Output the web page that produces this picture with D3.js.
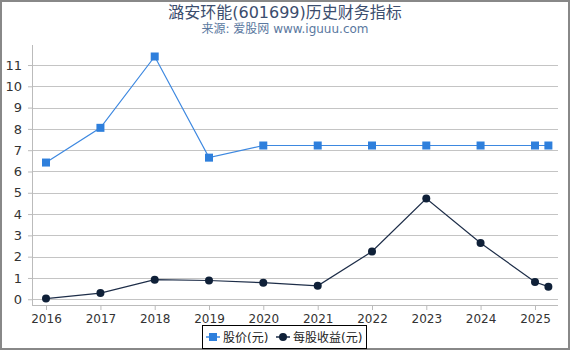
<!DOCTYPE html>
<html>
<head>
<meta charset="utf-8">
<script src="https://cdn.jsdelivr.net/npm/d3@7"></script>
<style>
body{margin:0;background:#fff;}
text{font-family:"DejaVu Sans","Noto Sans CJK SC",sans-serif;}
</style>
</head>
<body>
<div id="canvas"></div>
<script>
var w = 570;
var h = 350;

// data
var dates = ["2016-01-01","2017-01-01","2018-01-01","2019-01-01","2020-01-01","2021-01-01",
             "2022-01-01","2023-01-01","2024-01-01","2025-01-01","2025-04-01"];
var price = [6.42, 8.05, 11.4, 6.65, 7.22, 7.22, 7.22, 7.22, 7.22, 7.22, 7.22];
var eps = [0.03, 0.29, 0.92, 0.88, 0.78, 0.63, 2.24, 4.73, 2.64, 0.81, 0.59];
var yTicks = [0,1,2,3,4,5,6,7,8,9,10,11];
var xTickYears = [2016,2017,2018,2019,2020,2021,2022,2023,2024,2025];

var parse = d3.timeParse("%Y-%m-%d");
var priceData = dates.map(function(d,i){ return {date: parse(d), v: price[i]}; });
var epsData = dates.map(function(d,i){ return {date: parse(d), v: eps[i]}; });

var svg = d3.select("#canvas").append("svg")
	.attr("width", w)
	.attr("height", h);

// frame
svg.append("rect")
	.attr("x",1).attr("y",1)
	.attr("width",w-2).attr("height",h-2)
	.attr("fill","#fff")
	.attr("stroke","#888").attr("stroke-width",2);

// title
svg.append("text")
	.attr("x",285).attr("y",18)
	.attr("text-anchor","middle")
	.attr("font-size",16)
	.attr("fill","#3b4d6e")
	.text("潞安环能(601699)历史财务指标");
svg.append("text")
	.attr("x",285).attr("y",33)
	.attr("text-anchor","middle")
	.attr("font-size",12)
	.attr("fill","#5a78a0")
	.text("来源: 爱股网 www.iguuu.com");

var plotL = 32, plotR = 558, plotT = 45, plotB = 305;

// 2016 sits at x=46 and 2025 at x=535
var xScale = d3.scaleTime()
	.domain([parse("2016-01-01"), parse("2025-01-01")])
	.range([46, 535]);

var yScale = d3.scaleLinear()
	.domain([-0.27, 11.94])
	.range([plotB, plotT]);

// grid
svg.selectAll(".grid")
	.data(yTicks)
	.join("line")
	.attr("class","grid")
	.attr("x1",plotL).attr("x2",plotR)
	.attr("y1",function(d){ return Math.round(yScale(d))+0.5; })
	.attr("y2",function(d){ return Math.round(yScale(d))+0.5; })
	.attr("stroke","#c4c4c4").attr("stroke-width",1);

// y axis
var yAxis = d3.axisLeft(yScale).tickValues(yTicks).tickSize(4).tickPadding(6);
var gy = svg.append("g").attr("transform","translate("+plotL+",0)").call(yAxis);
gy.select(".domain").attr("stroke","#bbb").attr("d","M0.5,"+plotT+"V"+plotB);
gy.selectAll(".tick line").attr("stroke","#bbb");
gy.selectAll(".tick text").attr("font-size",13).attr("fill","#333")
	.attr("font-family","DejaVu Sans");

// x axis
var xAxis = d3.axisBottom(xScale)
	.tickValues(xTickYears.map(function(y){ return new Date(y,0,1); }))
	.tickFormat(d3.timeFormat("%Y"))
	.tickSize(5).tickPadding(4);
var gx = svg.append("g").attr("transform","translate(0,"+plotB+")").call(xAxis);
gx.select(".domain").attr("stroke","#bbb").attr("d","M"+plotL+",0.5H"+plotR);
gx.selectAll(".tick line").attr("stroke","#bbb");
gx.selectAll(".tick text").attr("font-size",12).attr("fill","#333")
	.attr("font-family","DejaVu Sans");

var line = d3.line()
	.x(function(d){ return xScale(d.date); })
	.y(function(d){ return yScale(d.v); });

var priceColor = "#2e7fdc";
var epsColor = "#0f2038";

svg.append("path").datum(priceData)
	.attr("d",line).attr("fill","none")
	.attr("stroke","#3d88e0").attr("stroke-width",1.2);
svg.selectAll(".pt")
	.data(priceData)
	.join("rect")
	.attr("class","pt")
	.attr("x",function(d){ return xScale(d.date)-4; })
	.attr("y",function(d){ return yScale(d.v)-4; })
	.attr("width",8).attr("height",8)
	.attr("fill",priceColor);

svg.append("path").datum(epsData)
	.attr("d",line).attr("fill","none")
	.attr("stroke","#1d2d48").attr("stroke-width",1.2);
svg.selectAll(".ep")
	.data(epsData)
	.join("circle")
	.attr("class","ep")
	.attr("cx",function(d){ return xScale(d.date); })
	.attr("cy",function(d){ return yScale(d.v); })
	.attr("r",4)
	.attr("fill",epsColor);

// legend
var lg = svg.append("g");
lg.append("rect")
	.attr("x",202.5).attr("y",325.5)
	.attr("width",164).attr("height",23)
	.attr("fill","#fff").attr("stroke","#000").attr("stroke-width",1);
lg.append("line").attr("x1",206).attr("x2",220).attr("y1",337).attr("y2",337)
	.attr("stroke","#3d88e0").attr("stroke-width",1.5);
lg.append("rect").attr("x",209).attr("y",333).attr("width",8).attr("height",8).attr("fill",priceColor);
lg.append("text").attr("x",223).attr("y",342).attr("font-size",12).attr("fill","#222").text("股价(元)");
lg.append("line").attr("x1",276).attr("x2",290).attr("y1",337).attr("y2",337)
	.attr("stroke","#1d2d48").attr("stroke-width",1.5);
lg.append("circle").attr("cx",283).attr("cy",337).attr("r",4).attr("fill",epsColor);
lg.append("text").attr("x",293).attr("y",342).attr("font-size",12).attr("fill","#222").text("每股收益(元)");
</script>
</body>
</html>
